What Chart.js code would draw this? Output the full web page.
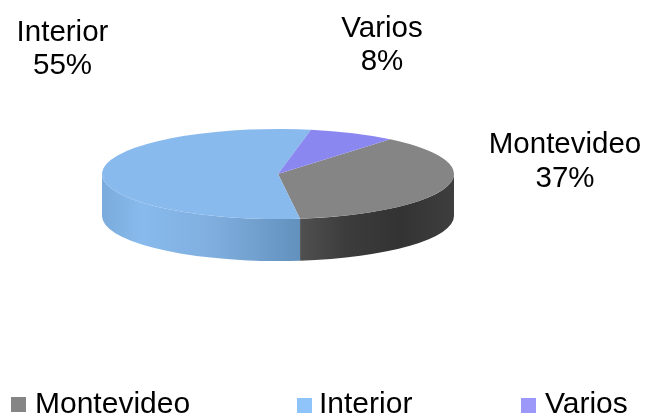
<!DOCTYPE html>
<html>
<head>
<meta charset="utf-8">
<style>html,body{margin:0;padding:0;background:#fff}canvas{display:block}</style>
<script src="https://cdn.jsdelivr.net/npm/chart.js@4"></script>
</head>
<body>
<canvas id="c" width="648" height="416"></canvas>
<script>
const categories = ['Montevideo', 'Interior', 'Varios'];
const shares = [37, 55, 8];
const topColors = ['#858585', '#89BAEE', '#8B87F0'];
const legendColors = ['#858585', '#8FC4FA', '#9C98FA'];
const sideStops = [
  [[0, '#505050'], [0.3, '#3C3C3C'], [0.65, '#333333'], [1, '#3E3E3E']],
  [[0, '#7AABDC'], [0.2, '#88BAED'], [0.55, '#80AFDF'], [1, '#6391BE']],
  [[0, '#6A67C0'], [1, '#6A67C0']]
];
const FONT = '"Liberation Sans", Arial, sans-serif';
const view = { cx: 278, cy: 174, rx: 176, ry: 45, depth: 42 };
const labelSpots = [
  { x: 565, y: 153, y2: 187 },
  { x: 62.5, y: 41, y2: 74 },
  { x: 382, y: 37, y2: 70 }
];
const legendSpots = [
  { box: 11, text: 35, y: 397 },
  { box: 297, text: 319, y: 398 },
  { box: 521, text: 545, y: 398 }
];

const pie3d = {
  id: 'pie3d',
  beforeDatasetsDraw(chart) {
    const ctx = chart.ctx;
    const arcs = chart.getDatasetMeta(0).data;
    const { cx, cy, rx, ry, depth } = view;
    arcs.forEach((arc, idx) => {
      for (const shift of [-2 * Math.PI, 0, 2 * Math.PI]) {
        const a0 = Math.max(arc.startAngle + shift, 0);
        const a1 = Math.min(arc.endAngle + shift, Math.PI);
        if (a1 <= a0) continue;
        const xA = cx + rx * Math.cos(a1), xB = cx + rx * Math.cos(a0);
        const grad = ctx.createLinearGradient(xA, 0, xB, 0);
        sideStops[idx].forEach(s => grad.addColorStop(s[0], s[1]));
        ctx.beginPath();
        ctx.ellipse(cx, cy, rx, ry, 0, a0, a1);
        ctx.ellipse(cx, cy + depth, rx, ry, 0, a1, a0, true);
        ctx.closePath();
        ctx.fillStyle = grad;
        ctx.fill();
      }
    });
    const a = arcs[0];
    ctx.save();
    ctx.translate(cx, cy);
    ctx.scale(rx / a.outerRadius, ry / a.outerRadius);
    ctx.translate(-a.x, -a.y);
  },
  afterDatasetsDraw(chart) {
    const ctx = chart.ctx;
    ctx.restore();
    ctx.save();
    ctx.fillStyle = '#000';
    ctx.font = '29.5px ' + FONT;
    ctx.textAlign = 'center';
    ctx.textBaseline = 'alphabetic';
    labelSpots.forEach((s, i) => {
      ctx.fillText(categories[i], s.x, s.y);
      ctx.fillText(shares[i] + '%', s.x, s.y2);
    });
    ctx.textAlign = 'left';
    ctx.font = '30px ' + FONT;
    legendSpots.forEach((s, i) => {
      ctx.fillStyle = legendColors[i];
      ctx.fillRect(s.box, s.y, 15, 15);
      ctx.fillStyle = '#000';
      ctx.fillText(categories[i], s.text, 412.5);
    });
    ctx.restore();
  }
};

new Chart(document.getElementById('c'), {
  type: 'pie',
  data: {
    labels: categories,
    datasets: [{
      data: shares,
      backgroundColor: topColors,
      borderWidth: 0,
      clip: false
    }]
  },
  options: {
    responsive: false,
    animation: false,
    events: [],
    rotation: 39.6,
    plugins: {
      tooltip: { enabled: false },
      legend: { display: false }
    }
  },
  plugins: [pie3d]
});
</script>
</body>
</html>
